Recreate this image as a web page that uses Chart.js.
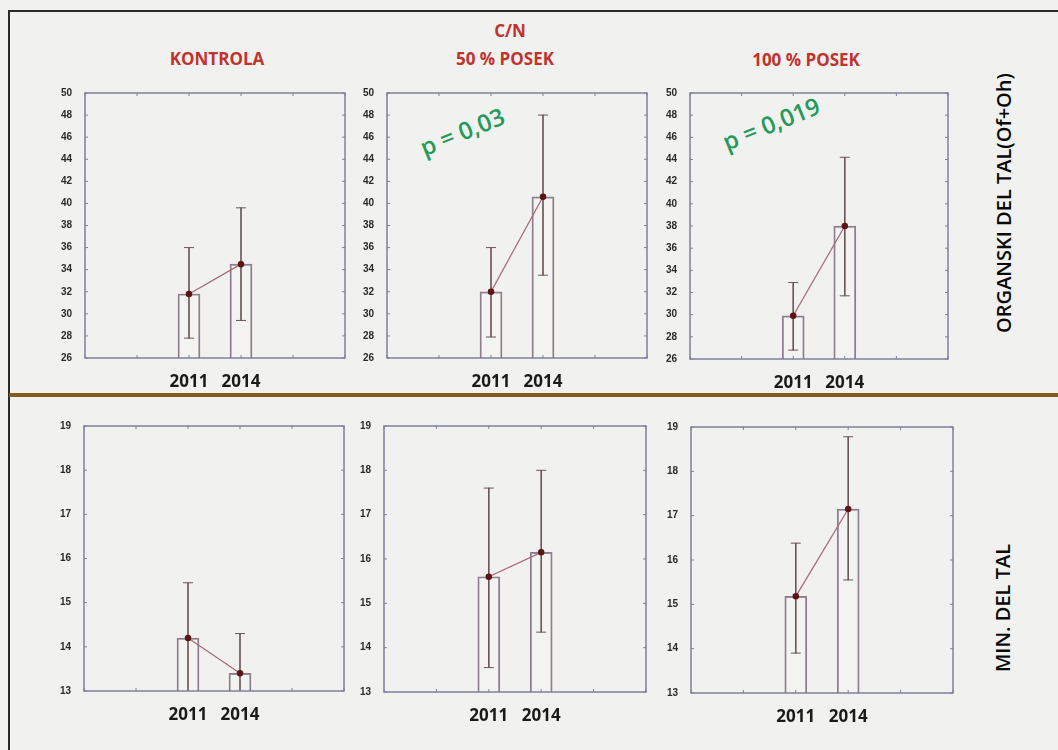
<!DOCTYPE html>
<html>
<head>
<meta charset="utf-8">
<script src="https://cdn.jsdelivr.net/npm/chart.js@4.4.1/dist/chart.umd.min.js"></script>
<style>
    body { margin: 0; background: #f1f2ef; font-family: "Open Sans", sans-serif; }
    #page { position: relative; width: 1058px; height: 750px; overflow: hidden; background: #f1f2ef; }
    .frameTop { position: absolute; left: 8px; top: 10px; width: 1050px; height: 2px; background: #2a2a2a; }
    .frameLeft { position: absolute; left: 8px; top: 10px; width: 2px; height: 740px; background: #2a2a2a; }
    .divider { position: absolute; left: 9px; top: 393px; width: 1049px; height: 4px; background: #87591b; }
    .head { position: absolute; color: #c0332e; font-weight: bold; font-size: 17px; transform: translate(-50%, -50%); white-space: nowrap; }
    .pval { position: absolute; color: #24995a; font-size: 24px; font-weight: 600; transform: translate(-50%, -50%) rotate(-22deg); white-space: nowrap; }
    .side { position: absolute; color: #0a0a0a; font-size: 20px; font-weight: 600; transform: translate(-50%, -50%) rotate(-90deg); white-space: nowrap; }
    .panel { position: absolute; }
</style>
</head>
<body>
<div id="page">
    <div class="frameTop"></div>
    <div class="frameLeft"></div>
    <div class="divider"></div>

    <div class="head" style="left:217px; top:58px;">KONTROLA</div>
    <div class="head" style="left:510px; top:30px;">C/N</div>
    <div class="head" style="left:505px; top:58px;">50 % POSEK</div>
    <div class="head" style="left:806px; top:59px;">100 % POSEK</div>

    <div class="pval" style="left:462px; top:131px;">p = 0,03</div>
    <div class="pval" style="left:771px; top:123px;">p = 0,019</div>

    <div class="side" style="left:1003px; top:203px;">ORGANSKI DEL TAL(Of+Oh)</div>
    <div class="side" style="left:1002px; top:608px;">MIN. DEL TAL</div>
</div>

<script>
// categories
const years = ['2011', '2014'];
const yearPos = [2, 3];

// organski del tal (Of+Oh)
const orgKontrolaMean = [31.8, 34.5];
const orgKontrolaLow = [27.8, 29.4];
const orgKontrolaHigh = [36.0, 39.6];

const org50Mean = [32.0, 40.6];
const org50Low = [27.9, 33.5];
const org50High = [36.0, 48.0];

const org100Mean = [29.9, 38.0];
const org100Low = [26.8, 31.7];
const org100High = [32.9, 44.2];

// min. del tal
const minKontrolaMean = [14.2, 13.4];
const minKontrolaLow = [12.95, 12.5];
const minKontrolaHigh = [15.45, 14.3];

const min50Mean = [15.6, 16.15];
const min50Low = [13.55, 14.35];
const min50High = [17.6, 18.0];

const min100Mean = [15.18, 17.15];
const min100Low = [13.9, 15.55];
const min100High = [16.38, 18.78];

// y axis ranges
const orgAxis = [26, 50, 2];
const minAxis = [13, 19, 1];

const frameColor = '#7f7f9e';

// box + inward ticks like the old statistica plots
const framePlugin = {
    id: 'frame',
    afterDraw(chart) {
        let ctx = chart.ctx;
        let a = chart.chartArea;
        let xs = chart.scales.x;
        let ys = chart.scales.y;
        ctx.save();
        ctx.strokeStyle = frameColor;
        ctx.lineWidth = 1.5;
        ctx.strokeRect(a.left, a.top, a.right - a.left, a.bottom - a.top);
        ctx.lineWidth = 1;
        ys.ticks.forEach(t => {
            let py = ys.getPixelForValue(t.value);
            ctx.beginPath();
            ctx.moveTo(a.left, py); ctx.lineTo(a.left + 3, py);
            ctx.moveTo(a.right, py); ctx.lineTo(a.right - 3, py);
            ctx.stroke();
        });
        xs.ticks.forEach(t => {
            let px = xs.getPixelForValue(t.value);
            ctx.beginPath();
            ctx.moveTo(px, a.top); ctx.lineTo(px, a.top + 3);
            ctx.moveTo(px, a.bottom); ctx.lineTo(px, a.bottom - 3);
            ctx.stroke();
        });
        ctx.restore();
    }
};

function makePanel(left, top, w, h, mean, low, high, axis) {
    let page = document.getElementById('page');
    let box = document.createElement('div');
    box.className = 'panel';
    box.style.left = (left - 30) + 'px';
    box.style.top = (top - 8) + 'px';
    let cv = document.createElement('canvas');
    cv.width = w + 38;
    cv.height = h + 48;
    box.appendChild(cv);
    page.appendChild(box);

    let pts = mean.map((m, i) => ({ x: yearPos[i], y: m }));
    let errs = mean.map((m, i) => ({ x: yearPos[i], y: [low[i], high[i]] }));
    let caps = [];
    mean.forEach((m, i) => {
        caps.push({ x: yearPos[i], y: low[i] });
        caps.push({ x: yearPos[i], y: high[i] });
    });

    new Chart(cv, {
        type: 'bar',
        data: {
            datasets: [
                {
                    type: 'line',
                    data: pts,
                    borderColor: '#a86a78',
                    borderWidth: 1.3,
                    pointRadius: 2.6,
                    pointBackgroundColor: '#5e1414',
                    pointBorderColor: '#5e1414',
                    order: 1
                },
                {
                    type: 'line',
                    data: caps,
                    showLine: false,
                    pointStyle: 'line',
                    pointRadius: 5,
                    pointBorderWidth: 1,
                    pointBorderColor: '#6a5658',
                    order: 2
                },
                {
                    data: errs,
                    backgroundColor: '#6a5658',
                    barThickness: 1,
                    grouped: false,
                    order: 3
                },
                {
                    data: pts,
                    backgroundColor: 'rgba(255,255,255,0.15)',
                    borderColor: '#8c7c8e',
                    borderWidth: 1.3,
                    borderSkipped: false,
                    barThickness: 22,
                    grouped: false,
                    order: 4
                }
            ]
        },
        options: {
            responsive: false,
            animation: false,
            layout: { padding: { top: 8, right: 8, left: 0, bottom: 0 } },
            plugins: { legend: { display: false }, tooltip: { enabled: false } },
            scales: {
                x: {
                    type: 'linear',
                    min: 0,
                    max: 5,
                    offset: false,
                    grid: { display: false, offset: false },
                    border: { display: false },
                    afterFit: s => { s.height = 40; },
                    ticks: {
                        stepSize: 1,
                        autoSkip: false,
                        maxRotation: 0,
                        padding: 6,
                        color: '#1a1a1a',
                        font: { family: 'Open Sans', size: 17, weight: 'bold' },
                        callback: v => {
                            let k = yearPos.indexOf(v);
                            return k >= 0 ? years[k] : '';
                        }
                    }
                },
                y: {
                    min: axis[0],
                    max: axis[1],
                    grid: { display: false },
                    border: { display: false },
                    afterFit: s => { s.width = 30; },
                    ticks: {
                        stepSize: axis[2],
                        padding: 5,
                        color: '#2a2a2a',
                        font: { family: 'Liberation Sans', size: 10, weight: 'bold' }
                    }
                }
            }
        },
        plugins: [framePlugin]
    });
}

makePanel(85, 90, 260, 268, orgKontrolaMean, orgKontrolaLow, orgKontrolaHigh, orgAxis);
makePanel(387, 90, 260, 268, org50Mean, org50Low, org50High, orgAxis);
makePanel(690, 90, 258, 269, org100Mean, org100Low, org100High, orgAxis);

makePanel(84, 423, 260, 268, minKontrolaMean, minKontrolaLow, minKontrolaHigh, minAxis);
makePanel(384, 423, 262, 269, min50Mean, min50Low, min50High, minAxis);
makePanel(691, 424, 262, 269, min100Mean, min100Low, min100High, minAxis);
</script>
</body>
</html>
